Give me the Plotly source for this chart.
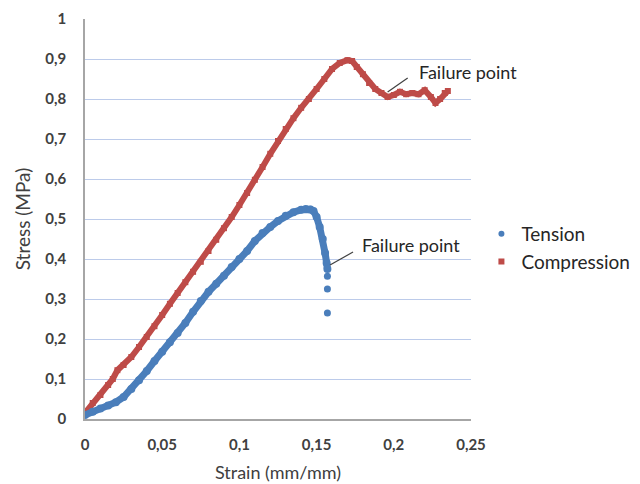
import plotly.graph_objects as go

# ---- data ----
tension_strain = [0, 0.005, 0.01, 0.015, 0.02, 0.025, 0.03, 0.035, 0.04, 0.045, 0.05,
                  0.055, 0.06, 0.065, 0.07, 0.075, 0.08, 0.085, 0.09, 0.095, 0.1,
                  0.105, 0.11, 0.115, 0.12, 0.125, 0.13, 0.135, 0.14, 0.143, 0.146,
                  0.148, 0.15, 0.152, 0.154, 0.1555, 0.1565, 0.157]
tension_stress = [0.01, 0.018, 0.026, 0.034, 0.042, 0.055, 0.075, 0.097, 0.12, 0.145, 0.168,
                  0.192, 0.215, 0.24, 0.268, 0.295, 0.318, 0.338, 0.358, 0.38, 0.40,
                  0.42, 0.445, 0.465, 0.48, 0.495, 0.508, 0.517, 0.523, 0.525, 0.524,
                  0.52, 0.505, 0.48, 0.45, 0.415, 0.39, 0.375]
tension_tail_strain = [0.157, 0.157, 0.157]
tension_tail_stress = [0.357, 0.325, 0.265]

compression_strain = [0, 0.005, 0.01, 0.015, 0.018, 0.021, 0.025, 0.03, 0.035, 0.04, 0.045,
                      0.05, 0.055, 0.06, 0.065, 0.07, 0.075, 0.08, 0.085, 0.09, 0.095,
                      0.1, 0.105, 0.11, 0.115, 0.12, 0.125, 0.13, 0.135, 0.14, 0.145,
                      0.15, 0.155, 0.16, 0.165, 0.17, 0.173, 0.176, 0.18, 0.184, 0.188,
                      0.192, 0.196, 0.2, 0.204, 0.208, 0.212, 0.216, 0.22, 0.224, 0.227,
                      0.23, 0.233, 0.235]
compression_stress = [0.015, 0.04, 0.06, 0.085, 0.10, 0.122, 0.135, 0.155, 0.18, 0.205, 0.232,
                      0.26, 0.288, 0.315, 0.342, 0.368, 0.393, 0.42, 0.448, 0.477, 0.505,
                      0.535, 0.565, 0.598, 0.63, 0.663, 0.695, 0.725, 0.752, 0.778, 0.80,
                      0.825, 0.85, 0.875, 0.89, 0.897, 0.895, 0.88, 0.862, 0.84, 0.825,
                      0.815, 0.805, 0.81, 0.818, 0.812, 0.815, 0.812, 0.822, 0.805, 0.79,
                      0.80, 0.815, 0.82]

x_ticks = [0, 0.05, 0.1, 0.15, 0.2, 0.25]
x_tick_labels = ["0", "0,05", "0,1", "0,15", "0,2", "0,25"]
y_ticks = [0, 0.1, 0.2, 0.3, 0.4, 0.5, 0.6, 0.7, 0.8, 0.9, 1]
y_tick_labels = ["0", "0,1", "0,2", "0,3", "0,4", "0,5", "0,6", "0,7", "0,8", "0,9", "1"]

BLUE = "#4a7ebb"
RED = "#be4b48"
FONT = "Lato"

fig = go.Figure()

fig.add_trace(go.Scatter(x=compression_strain, y=compression_stress, mode="lines+markers",
                         line=dict(color=RED, width=6),
                         marker=dict(symbol="square", size=6, color=RED),
                         showlegend=False, hoverinfo="skip"))
fig.add_trace(go.Scatter(x=tension_strain, y=tension_stress, mode="lines+markers",
                         line=dict(color=BLUE, width=7),
                         marker=dict(symbol="circle", size=8, color=BLUE),
                         showlegend=False, hoverinfo="skip"))
fig.add_trace(go.Scatter(x=tension_tail_strain, y=tension_tail_stress, mode="markers",
                         marker=dict(symbol="circle", size=7, color=BLUE),
                         showlegend=False, hoverinfo="skip"))
# legend entries
fig.add_trace(go.Scatter(x=[None], y=[None], mode="markers", name="Tension",
                         marker=dict(symbol="circle", size=6, color=BLUE)))
fig.add_trace(go.Scatter(x=[None], y=[None], mode="markers", name="Compression",
                         marker=dict(symbol="square", size=6, color=RED)))

# failure point pointers and labels
fig.add_shape(type="line", x0=0.196, y0=0.8175, x1=0.209, y1=0.8525,
              line=dict(color="#404040", width=1.2))
fig.add_annotation(x=0.215, y=0.8675, text="Failure point", showarrow=False,
                   xanchor="left", yanchor="middle",
                   font=dict(family=FONT, size=18, color="#262626"))
fig.add_shape(type="line", x0=0.1587, y0=0.385, x1=0.1736, y1=0.4175,
              line=dict(color="#404040", width=1.2))
fig.add_annotation(x=0.178, y=0.435, text="Failure point", showarrow=False,
                   xanchor="left", yanchor="middle",
                   font=dict(family=FONT, size=18, color="#262626"))

fig.update_layout(
    width=640, height=484,
    margin=dict(l=85, r=169, t=19, b=65, autoexpand=False),
    paper_bgcolor="white", plot_bgcolor="white",
    font=dict(family=FONT, color="#404040"),
    legend=dict(x=1.027, y=0.51, xanchor="left", yanchor="top",
                font=dict(family=FONT, size=19, color="#262626"),
                itemwidth=30, tracegroupgap=4, bgcolor="rgba(0,0,0,0)"),
    xaxis=dict(range=[0, 0.25], tickvals=x_ticks, ticktext=x_tick_labels,
               automargin=False,
               showgrid=False, zeroline=False, showline=True, linecolor="#a6a6a6",
               linewidth=1.5, ticks="", ticklabelstandoff=11,
               tickfont=dict(family=FONT, size=15, color="#404040", weight="bold"),
               title=dict(text="Strain (mm/mm)", standoff=15,
                          font=dict(family=FONT, size=18, color="#404040"))),
    yaxis=dict(range=[0, 1], tickvals=y_ticks, ticktext=y_tick_labels,
               automargin=False,
               showgrid=True, gridcolor="#bccbea", gridwidth=1, zeroline=False,
               showline=True, linecolor="#a6a6a6", linewidth=1.5, ticks="",
               ticklabelstandoff=14,
               tickfont=dict(family=FONT, size=15, color="#404040", weight="bold"),
               title=dict(text="Stress (MPa)", standoff=10,
                          font=dict(family=FONT, size=19, color="#404040"))),
)

fig.write_html("out.html")
